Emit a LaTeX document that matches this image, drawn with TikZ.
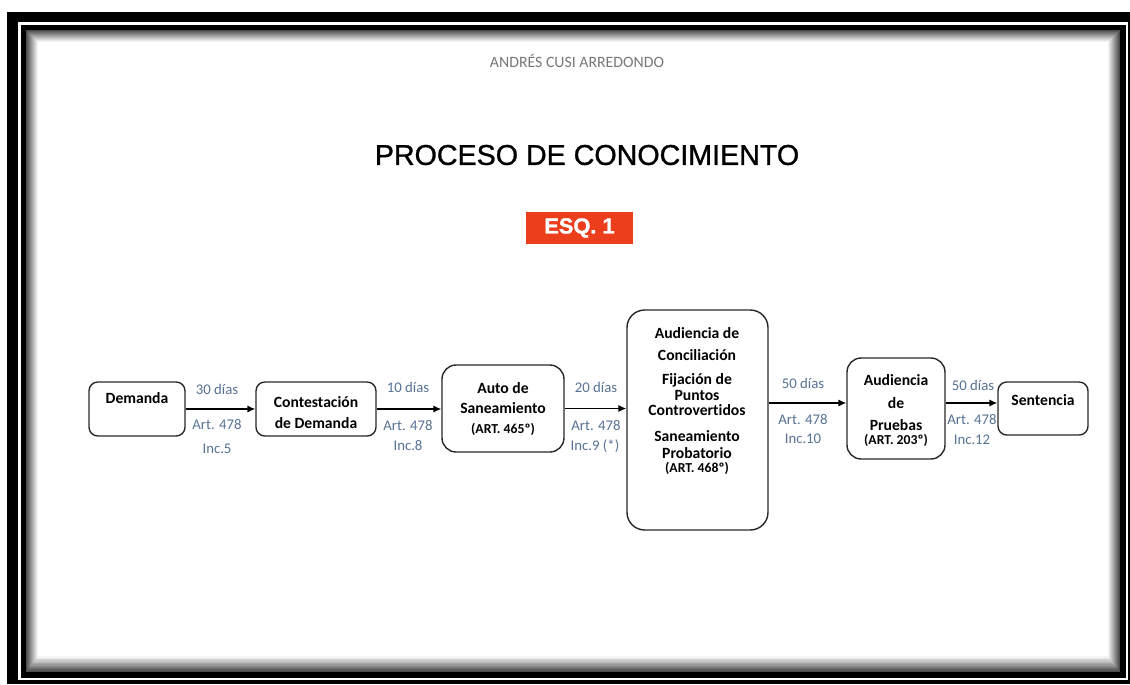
\documentclass[tikz,border=0pt]{standalone}
\usepackage{fontspec}
\setmainfont{Carlito}[Ligatures={NoCommon}]
\newfontfamily\arialfont{Liberation Sans}[FakeBold=1.0]
\newfontfamily\esqfont{Liberation Sans Bold}[FakeBold=1.5]
\usepackage{tikz}
\usetikzlibrary{positioning}
\usetikzlibrary{arrows.meta}
\definecolor{esqrojo}{RGB}{236,62,28}
\definecolor{plazo}{RGB}{88,114,150}
\definecolor{autorgris}{RGB}{120,120,120}
\definecolor{borde}{RGB}{40,40,40}
\tikzset{
	caja/.style={draw=borde, line width=0.8pt, rounded corners=5pt, fill=white},
	texto/.style={font=\fontsize{8.9}{10}\selectfont\bfseries, inner sep=0pt},
	textochico/.style={font=\fontsize{7.8}{9}\selectfont\bfseries, inner sep=0pt},
	plazotxt/.style={text=plazo, font=\fontsize{8.4}{10}\selectfont, inner sep=0pt},
	flecha/.style={draw=black, line width=0.7pt, -{Latex[length=4.5pt,width=4pt]}}
}

\begin{document}
\begin{tikzpicture}[x=0.02cm, y=-0.02cm]

				\useasboundingbox (0,0) rectangle (1130,684);
				\fill[white] (0,0) rectangle (1130,684);

				\fill[black] (7,12) rectangle (1130,684);
				\draw[white, line width=1.3pt] (19.5,23.5) rectangle (1127,679);
				\fill[black] (21,26) rectangle (1124,676);
				\foreach \i in {0,...,13} {
					\pgfmathsetmacro{\pct}{max(0,70-6*\i)}
					\fill[black!\pct] (26+\i,30+\i) rectangle (1120-\i,672-1.3*\i);
				}
				\fill[white] (40,44) rectangle (1106,654);

				\node[text=autorgris, font=\fontsize{9}{10}\selectfont] (autor) at (577,61) {ANDRÉS CUSI ARREDONDO};
				\node[font=\arialfont\fontsize{16.3}{18}\selectfont] (titulo) at (587,155) {PROCESO DE CONOCIMIENTO};
				\node[fill=esqrojo, text=white, font=\esqfont\fontsize{12.4}{14}\selectfont,
					minimum width=2.14cm, minimum height=0.56cm] (esq) at (579.5,228) {ESQ. 1};

				\node[caja, minimum width=1.92cm, minimum height=1.08cm] (demanda) at (137,409) {};
				\node[caja, minimum width=2.4cm, minimum height=1.08cm] (contestacion) at (316,409) {};
				\node[caja, rounded corners=8pt, minimum width=2.44cm, minimum height=1.74cm] (auto) at (503,408.5) {};
				\node[caja, rounded corners=10pt, minimum width=2.82cm, minimum height=4.4cm] (audiencia) at (697.5,420) {};
				\node[caja, rounded corners=8pt, minimum width=1.96cm, minimum height=2.02cm] (pruebas) at (896,408.5) {};
				\node[caja, minimum width=1.8cm, minimum height=1.06cm] (sentencia) at (1043,408.5) {};

				\node[texto] (t1) at (137,398) {Demanda};
				\node[texto] (t2a) at (316,402) {Contestación};
				\node[texto] (t2b) at (316,423) {de Demanda};
				\node[texto] (t3a) at (503,388) {Auto de};
				\node[texto] (t3b) at (503,408) {Saneamiento};
				\node[textochico] (t3c) at (503,429) {(ART. 465º)};
				\node[texto] (t4a) at (697,333) {Audiencia de};
				\node[texto] (t4b) at (697,355) {Conciliación};
				\node[texto] (t4c) at (697,380) {Fijación de};
				\node[texto] (t4d) at (697,395) {Puntos};
				\node[texto] (t4e) at (697,410) {Controvertidos};
				\node[texto] (t4f) at (697,436) {Saneamiento};
				\node[texto] (t4g) at (697,453) {Probatorio};
				\node[textochico] (t4h) at (697,468) {(ART. 468º)};
				\node[texto] (t5a) at (896,380) {Audiencia};
				\node[texto] (t5b) at (896,403) {de};
				\node[texto] (t5c) at (896,425) {Pruebas};
				\node[textochico] (t5d) at (896,440) {(ART. 203º)};
				\node[texto] (t6) at (1043,400) {Sentencia};

				\draw[flecha] (demanda.east) -- (contestacion.west);
				\draw[flecha] (contestacion.east) -- (auto.west |- contestacion.east);
				\draw[flecha] (auto.east) -- (audiencia.west |- auto.east);
				\draw[flecha] (audiencia.east |- 0,403) -- (pruebas.west |- 0,403);
				\draw[flecha] (pruebas.east |- 0,403) -- (sentencia.west |- 0,403);

				\node[plazotxt] (p1a) at (217,389) {30 días};
				\node[plazotxt] (p1b) at (217,425) {Art. 478};
				\node[plazotxt] (p1c) at (217,449) {Inc.5};
				\node[plazotxt] (p2a) at (408,387) {10 días};
				\node[plazotxt] (p2b) at (408,426) {Art. 478};
				\node[plazotxt] (p2c) at (408,446) {Inc.8};
				\node[plazotxt] (p3a) at (596,387) {20 días};
				\node[plazotxt] (p3b) at (596,426) {Art. 478};
				\node[plazotxt] (p3c) at (595,446) {Inc.9 (*)};
				\node[plazotxt] (p4a) at (803,383) {50 días};
				\node[plazotxt] (p4b) at (803,420) {Art. 478};
				\node[plazotxt] (p4c) at (803,439) {Inc.10};
				\node[plazotxt] (p5a) at (973,385) {50 días};
				\node[plazotxt] (p5b) at (972,420) {Art. 478};
				\node[plazotxt] (p5c) at (972,440) {Inc.12};

				\end{tikzpicture}
\end{document}
